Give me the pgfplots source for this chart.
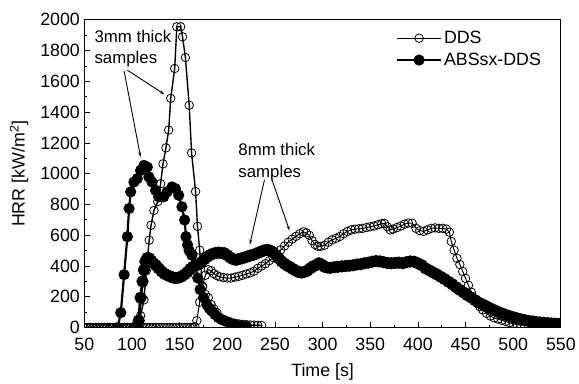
\documentclass[border=0pt]{standalone}
\usepackage{pgfplots}
\pgfplotsset{compat=1.18}
\usepackage{fontspec}
\setmainfont{Liberation Sans}
\usetikzlibrary{arrows.meta}
\begin{document}
\begin{tikzpicture}
\begin{axis}[
  scale only axis, width=480bp, height=310bp,
  xmin=50, xmax=550, ymin=0, ymax=2000,
  xtick={50,100,...,550}, ytick={0,200,...,2000},
  minor x tick num=1, minor y tick num=1,
  tick pos=left, tick align=inside,
  major tick length=6bp, minor tick length=3bp,
  axis line style={line width=1bp}, every tick/.style={black, line width=0.8bp},
  /pgf/number format/assume math mode=true,
  /pgf/number format/1000 sep={},
  tick label style={font=\fontsize{18}{20}\selectfont},
  xticklabel style={yshift=-7bp},
  yticklabel style={xshift=-1bp},
  label style={font=\fontsize{18}{20}\selectfont},
  xlabel={Time [s]}, ylabel={HRR [kW/m\textsuperscript{2}]},
  xlabel style={at={(axis description cs:0.5,-0.16)}, anchor=base},
  ylabel style={at={(axis description cs:-0.137,0.5)}, anchor=center},
  clip marker paths=true,
  legend style={draw=none, fill=none, at={(rel axis cs:0.654,0.97)}, anchor=north west,
    font=\fontsize{18}{20}\selectfont, row sep=4bp, inner sep=0pt},
  legend cell align=left,
  legend image code/.code={\draw[mark repeat=2,mark phase=2,#1] plot coordinates {(0bp,0bp) (22bp,0bp) (44bp,0bp)};},
]
\addlegendimage{black, line width=1.3bp, mark=o, mark size=4.3bp, mark options={fill=white, line width=0.8bp}}
\addlegendentry{DDS}
\addlegendimage{black, line width=2.2bp, mark=*, mark size=4.5bp}
\addlegendentry{ABSsx-DDS}

% 8mm ABSsx-DDS (filled, dense)
\addplot[forget plot, black, line width=3bp, mark=*, mark size=4.6bp] coordinates {
(104,0) (107,45) (109,194) (111,300) (112.5,374) (114,430) (116,452) (118,450) (120,435) (122,420)
(125,405) (128,385) (131,365) (134,350) (137,340) (140,332) (143,325) (146,322) (149,325) (152,332)
(155,345) (158,360) (161,380) (164,395) (167,405) (170,412) (173,425) (176,445) (179,460) (182,472)
(185,480) (188,485) (191,487) (194,485) (197,483) (200,470) (203,455) (206,445) (209,440) (212,445)
(215,450) (218,455) (221,462) (224,468) (227,472) (230,480) (233,488) (236,495) (239,502) (242,505)
(245,500) (248,490) (251,470) (254,450) (257,430) (260,415) (263,402) (266,392) (269,380) (272,370)
(275,360) (278,358) (281,362) (284,370) (287,385) (290,398) (293,405) (296,418) (299,410) (302,395)
(305,390) (308,388) (312,392) (316,395) (320,398) (324,400) (328,402) (332,405) (336,410) (340,412)
(344,418) (348,422) (352,428) (356,432) (360,430) (364,425) (368,420) (372,418) (376,420) (380,422)
(384,418) (388,425) (392,430) (396,428) (400,418) (404,405) (408,385) (412,372) (416,358) (420,345)
(424,330) (428,315) (432,298) (436,282) (440,262) (444,245) (448,228) (452,210) (456,195) (460,178)
(464,162) (468,150) (472,138) (476,125) (480,113) (484,102) (488,92) (492,83) (496,75) (500,67)
(504,60) (508,53) (512,48) (516,43) (520,40) (524,36) (528,33) (532,31) (536,29) (540,27)
(544,25) (548,23) (550,22)
};

% 3mm ABSsx-DDS (filled)
\addplot[forget plot, black, line width=2.2bp, mark=*, mark size=4.5bp] coordinates {
(85,0) (88.2,97) (91.7,344) (95.1,591) (96.9,774) (98.6,882) (102,946) (105.5,968) (109,1021) (112.5,1054)
(116,1043) (117.7,979) (121,946) (124.7,892) (128,850) (133.3,850) (136.8,882) (142,914) (145.5,903) (149,860)
(152.4,785) (155.2,699) (156.6,591) (158.3,538) (160,500) (162.8,470) (166.4,398) (169,322) (171.5,247) (175,194)
(178.5,150) (181,125) (183.6,108) (187,85) (190.6,65) (194,52) (197.6,43) (202,33) (208,21) (214,12) (220,6)
};

% 8mm DDS (open, dense)
\addplot[forget plot, black, line width=1bp, mark=o, mark size=4.3bp, mark options={fill=white, line width=0.8bp}] coordinates {
(50,0) (53,0) (56,0) (59,0) (62,0) (65,0) (68,0) (71,0) (74,0) (77,0) (80,0) (83,0) (86,0) (89,0) (92,0)
(95,0) (98,0) (101,0) (104,0) (107,0) (110,0) (113,0) (116,0) (119,0) (122,0) (125,0) (128,0) (131,0)
(134,0) (137,0) (140,0) (143,0) (146,0) (149,0) (152,0) (155,0) (158,0) (161,0) (164,0) (166,5)
(168,45) (171,165) (174,270) (177,340) (180,376) (183,370) (186,350) (189,338) (192,330) (196,325)
(200,322) (204,322) (208,328) (212,333) (216,340) (220,348) (224,356) (228,366) (232,385) (236,400)
(240,415) (244,435) (248,455) (252,480) (256,505) (260,530) (264,555) (268,575) (272,593) (276,610)
(280,622) (283,615) (286,600) (289,565) (292,540) (295,528) (298,528) (302,535) (306,555) (310,570)
(314,580) (318,592) (322,610) (326,625) (330,635) (334,640) (338,642) (342,645) (346,650) (350,655)
(354,660) (358,668) (362,675) (365,677) (368,655) (371,635) (374,640) (378,650) (382,660) (386,672)
(390,680) (394,678) (398,645) (402,630) (406,625) (410,635) (414,645) (418,648) (422,645) (426,645)
(430,640) (433,620) (435,560) (438,503) (441,450) (444,410) (447,365) (450,320) (453,275) (456,230)
(459,185) (462,160) (465,135) (468,115) (472,92) (476,75) (480,63) (484,55) (488,47) (492,40)
(496,32) (500,24) (504,19) (508,17) (512,15) (516,14) (520,13) (524,12) (528,12) (532,12)
(536,12) (540,12) (544,12) (548,12) (550,12)
};

% 3mm DDS (open)
\addplot[forget plot, black, line width=1.4bp, mark=o, mark size=4.3bp, mark options={fill=white, line width=0.8bp}] coordinates {
(50,0) (53,0) (56,0) (59,0) (62,0) (65,0) (68,0) (71,0) (74,0) (77,0) (80,0) (83,0) (86,0) (89,0) (92,0)
(95,0) (98,0) (101,0) (104,0) (106.5,20) (109,77) (112.5,180) (115,370) (118,568) (120,665) (123,761)
(127,819) (130,935) (132.5,1064) (135.6,1168) (138.5,1284) (140.6,1490) (144.8,1684) (147,1955) (151,1955)
(153,1890) (156,1755) (160,1445) (162.5,1135) (166.7,884) (168.7,658) (171,503) (174,262) (177,215)
(180,194) (183,150) (186,120) (189,97) (192,65) (195,52) (198,43) (201,37) (204,32) (208,27) (212,24)
(216,21) (220,19) (224,17) (228,16) (232,15) (236,14)
};

\node[align=left, anchor=west, inner sep=0pt, font=\fontsize{17}{22}\selectfont] at (axis cs:60.5,1813) {3mm thick\\samples};
\node[align=left, anchor=west, inner sep=0pt, font=\fontsize{17}{22}\selectfont] at (axis cs:211.5,1077) {8mm thick\\samples};
\draw[line width=0.9bp, -{Stealth[length=5bp,width=3bp]}] (axis cs:91.7,1667) -- (axis cs:109,1108);
\draw[line width=0.9bp, -{Stealth[length=5bp,width=3bp]}] (axis cs:95.1,1673) -- (axis cs:134,1516);
\draw[line width=0.9bp, -{Stealth[length=5bp,width=3bp]}] (axis cs:239,960) -- (axis cs:223.6,540);
\draw[line width=0.9bp, -{Stealth[length=5bp,width=3bp]}] (axis cs:246.9,960) -- (axis cs:265.3,630);
\end{axis}
\path[use as bounding box] ([xshift=-85bp,yshift=-52bp]current axis.south west) rectangle ([xshift=14bp,yshift=20bp]current axis.north east);
\end{tikzpicture}
\end{document}
